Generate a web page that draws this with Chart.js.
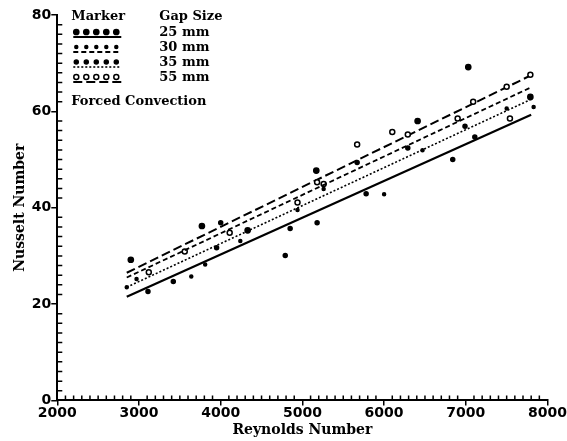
<!DOCTYPE html>
<html>
<head>
<meta charset="utf-8">
<script src="https://cdn.jsdelivr.net/npm/chart.js@4.4.0/dist/chart.umd.min.js"></script>
<style>
  html, body { margin: 0; padding: 0; background: #fff; }
  #wrap { width: 567px; height: 441px; position: relative; }
</style>
</head>
<body>
<div id="wrap"><canvas id="nuChart"></canvas></div>
<script>
// --- dados ---
const gapSizes = ['25 mm', '30 mm', '35 mm', '55 mm'];

const re25 = [2900, 3770, 4330, 5170, 6410, 7030, 7790];
const nu25 = [29.2, 36.2, 35.3, 47.7, 58.0, 69.2, 63.0];

const re30 = [2970, 2850, 3640, 3810, 4240, 4940, 5260, 6000, 6470, 7500, 7830];
const nu30 = [25.2, 23.5, 25.7, 28.2, 33.1, 39.5, 43.9, 42.8, 51.9, 60.6, 60.9];

const re35 = [3110, 3420, 3950, 4000, 4790, 4850, 5180, 5780, 5670, 6290, 6840, 7110, 6990];
const nu35 = [22.6, 24.7, 31.7, 36.9, 30.1, 35.7, 36.9, 42.9, 49.4, 52.4, 50.0, 54.7, 56.9];

const re55 = [3120, 3560, 4110, 4940, 5180, 5260, 5670, 6100, 6290, 6900, 7090, 7500, 7540, 7790];
const nu55 = [26.6, 30.9, 34.8, 41.1, 45.3, 44.9, 53.1, 55.7, 55.2, 58.5, 62.0, 65.1, 58.5, 67.6];

// retas ajustadas
const fitRe = [2850, 7800];
const fit25 = [21.5, 59.3];
const fit30 = [25.5, 65.0];
const fit35 = [23.5, 62.5];
const fit55 = [26.5, 67.5];

const xTicks = [2000, 3000, 4000, 5000, 6000, 7000, 8000];
const yTicks = [0, 20, 40, 60, 80];

const toPts = (xs, ys) => xs.map((x, i) => ({ x: x, y: ys[i] }));

const estilos = [
    { dash: [],     radius: 2.6, fill: '#000', width: 2.2 },
    { dash: [5, 3], radius: 1.5, fill: '#000', width: 1.8 },
    { dash: [2, 2], radius: 2.0, fill: '#000', width: 1.6 },
    { dash: [9, 4], radius: 2.5, fill: '#fff', width: 2.0 }
];

const seriesPts = [toPts(re25, nu25), toPts(re30, nu30), toPts(re35, nu35), toPts(re55, nu55)];
const fitPts = [toPts(fitRe, fit25), toPts(fitRe, fit30), toPts(fitRe, fit35), toPts(fitRe, fit55)];

const datasets = [];
gapSizes.forEach((g, i) => {
    datasets.push({
        label: g,
        data: seriesPts[i],
        showLine: false,
        pointRadius: estilos[i].radius,
        pointBackgroundColor: estilos[i].fill,
        pointBorderColor: '#000',
        pointBorderWidth: 1.5
    });
    datasets.push({
        label: g + ' fit',
        data: fitPts[i],
        showLine: true,
        borderColor: '#000',
        borderWidth: estilos[i].width,
        borderDash: estilos[i].dash,
        pointRadius: 0
    });
});

// ticks menores (para dentro) e legenda desenhada no canvas
const extras = {
    id: 'extras',
    afterDraw(chart) {
        const ctx = chart.ctx;
        const xs = chart.scales.x, ys = chart.scales.y;
        const area = chart.chartArea;
        ctx.save();
        ctx.strokeStyle = '#000';
        ctx.lineWidth = 1.5;
        ctx.beginPath();
        for (let v = 2100; v < 8000; v += 100) {
            if (v % 1000 === 0) continue;
            const px = xs.getPixelForValue(v);
            ctx.moveTo(px, area.bottom);
            ctx.lineTo(px, area.bottom - 5);
        }
        for (let v = 2; v < 80; v += 2) {
            if (v % 20 === 0) continue;
            const py = ys.getPixelForValue(v);
            ctx.moveTo(area.left, py);
            ctx.lineTo(area.left + 5, py);
        }
        ctx.stroke();

        // legenda
        const lx = area.left + 14, tx = area.left + 102;
        ctx.fillStyle = '#000';
        ctx.font = 'bold 13px "DejaVu Serif"';
        ctx.textBaseline = 'middle';
        ctx.fillText('Marker', lx, area.top + 2);
        ctx.fillText('Gap Size', tx, area.top + 2);
        gapSizes.forEach((g, i) => {
            const ry = area.top + 18 + i * 15;
            ctx.fillText(g, tx, ry);
            const st = estilos[i];
            ctx.setLineDash(st.dash);
            ctx.lineWidth = st.width;
            ctx.beginPath();
            ctx.moveTo(lx + 2, ry + 4);
            ctx.lineTo(lx + 50, ry + 4);
            ctx.stroke();
            ctx.setLineDash([]);
            for (let k = 0; k < 5; k++) {
                ctx.beginPath();
                ctx.arc(lx + 5 + k * 10, ry - 1, st.radius, 0, Math.PI * 2);
                ctx.fillStyle = st.fill;
                ctx.fill();
                ctx.lineWidth = 1.5;
                ctx.stroke();
            }
            ctx.fillStyle = '#000';
        });
        ctx.fillText('Forced Convection', lx, area.top + 87);
        ctx.restore();
    }
};

const tickFont = { family: '"DejaVu Sans"', size: 14, weight: 'bold' };
const titleFont = { family: '"DejaVu Serif"', size: 14, weight: 'bold' };

new Chart(document.getElementById('nuChart'), {
    type: 'scatter',
    data: { datasets: datasets },
    options: {
        responsive: true,
        maintainAspectRatio: false,
        animation: false,
        layout: { padding: { left: 12, top: 15, right: 0, bottom: 0 } },
        plugins: { legend: { display: false }, tooltip: { enabled: false } },
        scales: {
            x: {
                type: 'linear',
                min: 2000, max: 8000,
                afterBuildTicks: (s) => { s.ticks = xTicks.map(v => ({ value: v })); },
                ticks: { color: '#000', font: tickFont, padding: 0, maxRotation: 0, callback: (v) => String(v) },
                grid: { drawOnChartArea: false, tickLength: 5, color: '#000', lineWidth: 1.5 },
                border: { color: '#000', width: 2 },
                title: { display: true, text: 'Reynolds Number', color: '#000', font: titleFont, padding: { top: 0, bottom: 2 } }
            },
            y: {
                min: 0, max: 80,
                afterBuildTicks: (s) => { s.ticks = yTicks.map(v => ({ value: v })); },
                ticks: { color: '#000', font: tickFont, padding: 0, callback: (v) => String(v) },
                grid: { drawOnChartArea: false, tickLength: 6, color: '#000', lineWidth: 1.5 },
                border: { color: '#000', width: 2 },
                title: { display: true, text: 'Nusselt Number', color: '#000', font: titleFont, padding: { top: 0, bottom: 3 } }
            }
        }
    },
    plugins: [extras]
});
</script>
</body>
</html>
